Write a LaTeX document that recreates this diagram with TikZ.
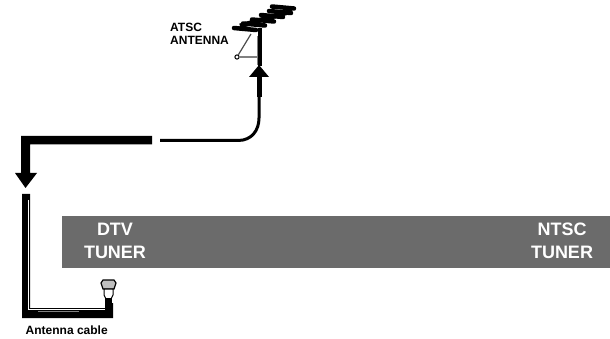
\documentclass[tikz,border=0pt]{standalone}
\usepackage{fontspec}
\setmainfont{Liberation Sans}
\usepackage{tikz}
\usetikzlibrary{calc}

\definecolor{boxgray}{gray}{0.42}

\tikzset{
  tunerlabel/.style={text=white, font=\fontsize{18}{23}\selectfont\bfseries, align=center, inner sep=0pt},
  smalllabel/.style={text=black, font=\fontsize{12}{12.5}\selectfont\bfseries, align=left, inner sep=0pt},
  element/.style={line width=4.5pt, line cap=round}
}

\begin{document}
\begin{tikzpicture}[x=1pt, y=-1pt]
  \useasboundingbox (0,0) rectangle (610,339);
  % ---- tuner strip ----
  \fill[boxgray] (62,216) rectangle (610,268);
  \node[tunerlabel] (dtv) at (115,241) {DTV\\TUNER};
  \node[tunerlabel] (ntsc) at (562,241) {NTSC\\TUNER};
  % ---- antenna: elements, boom, mast ----
  \foreach \x/\y in {234/28, 243/23.5, 252/19.5, 261/15, 269/11, 272/6.5}
    \draw[element] (\x,\y) -- (\x+22,\y+2);
  \draw[line width=5pt] (240,26) -- (292,11);
  \draw[line width=4pt] (259.5,28) -- (259.5,66);
  \draw[gray, line width=1pt] (257,36) -- (257,65);
  \node[draw, circle, fill=white, line width=1pt, inner sep=1.5pt] (loop) at (237,57) {};
  \draw[gray!60!black, line width=1.2pt] (loop) -- (251,34);
  \draw[gray, line width=1.2pt] (loop) -- (257,57);
  \node[smalllabel, anchor=north west] (atsc) at (170,23) {ATSC\\ANTENNA};
  % ---- cable from the antenna ----
  \coordinate (cablestart) at (160,140.5);
  \draw[line width=3pt] (cablestart) -- (238,140.5) .. controls (252,140.5) and (259,130) .. (259,118) -- (259,96);
  \fill (256.5,97) rectangle (261.5,75);
  \fill (259,65) -- (269,77) -- (249,77) -- cycle;
  % ---- thick arrow ----
  \fill (152,136) -- (21,136) -- (21,173) -- (15,173) -- (25.5,188) -- (37,173) -- (30,173) -- (30,144.5) -- (152,144.5) -- cycle;
  % ---- antenna cable ----
  \fill (22,194) -- (30,194) -- (30,308) -- (105,308) -- (105,303) -- (113,303) -- (113,318) -- (22,318) -- cycle;
  \draw[white, line width=0.8pt] (28,200) -- (28,309.5) -- (105,309.5);
  \draw[gray, line width=1.5pt] (38,311.5) -- (79,311.5);
  % ---- connector ----
  \draw[line width=1.2pt, fill=gray!50] (101,283) -- (103,280) -- (114,280) -- (116,283) -- (114,289) -- (103,289) -- cycle;
  \draw[line width=1pt, fill=white] (104,289) -- (104,295) -- (106,299) -- (111,299) -- (113,295) -- (113,289) -- cycle;
  \fill (105,298) rectangle (112,304);
  \node[smalllabel, anchor=north west] (cablelabel) at (25.5,326) {Antenna cable};
\end{tikzpicture}
\end{document}
